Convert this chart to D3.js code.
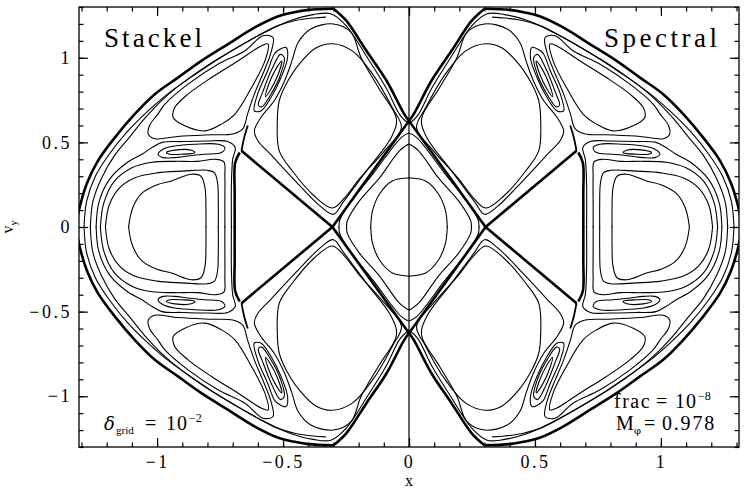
<!DOCTYPE html>
<html>
<head>
<meta charset="utf-8">
<script src="https://cdn.jsdelivr.net/npm/d3@7"></script>
<style>
  body { margin: 0; background: #fff; }
  text { font-family: "Liberation Serif", "DejaVu Serif", serif; fill: #000; }
</style>
</head>
<body>
<svg width="747" height="492"></svg>
<script>
// the picture is mirror-symmetric in x and in vy, so each curve is drawn four times

// chaotic separatrix band (thick)
var bandOuter = [[-0.30, 1.29], [-0.40, 1.283], [-0.46, 1.268], [-0.519, 1.245], [-0.612, 1.179],
    [-0.718, 1.081], [-0.824, 0.982], [-0.917, 0.883], [-1.009, 0.785], [-1.089, 0.667],
    [-1.168, 0.528], [-1.235, 0.391], [-1.278, 0.26], [-1.305, 0.13], [-1.322, 0], [-1.322, -0.06]];
var bandUpperRight = [[-0.30, 1.29], [-0.249, 1.219], [-0.169, 1.041], [-0.089, 0.864], [-0.02, 0.67], [0, 0.627]];
var bandDiamond = [[0, 0.627], [-0.304, 0]];
var bandArm = [[-0.304, 0], [-0.665, 0.45]];
var bandChannel = [[-0.672, 0.44], [-0.69, 0.38], [-0.692, 0.2], [-0.692, 0], [-0.692, -0.05]];
var bandLeftEdge = [[-0.665, 0.45], [-0.654, 0.53], [-0.64, 0.60]];

// thin lines running along the band
var bandInner0 = [[-1.29, -0.05], [-1.29, 0], [-1.28, 0.15], [-1.245, 0.30], [-1.19, 0.43], [-1.12, 0.56],
    [-1.04, 0.68], [-0.955, 0.79], [-0.86, 0.89], [-0.76, 0.99], [-0.66, 1.08], [-0.56, 1.16],
    [-0.47, 1.22], [-0.38, 1.255], [-0.31, 1.26], [-0.25, 1.19], [-0.165, 1.0], [-0.09, 0.82],
    [-0.035, 0.66], [0, 0.61], [0.03, 0.59]];
var bandInner1 = [[-1.265, -0.05], [-1.265, 0], [-1.255, 0.15], [-1.22, 0.29], [-1.17, 0.42], [-1.11, 0.53],
    [-1.05, 0.64], [-0.98, 0.75], [-0.90, 0.85], [-0.80, 0.955], [-0.70, 1.045], [-0.60, 1.13],
    [-0.52, 1.19], [-0.45, 1.22], [-0.38, 1.235], [-0.33, 1.24]];

// curve around the small island, into the vertical channel
var channelLoop = [[-0.705, -0.05], [-0.705, 0], [-0.705, 0.25], [-0.70, 0.40], [-0.69, 0.47], [-0.72, 0.505],
    [-0.80, 0.508], [-0.90, 0.505], [-0.98, 0.50], [-1.02, 0.47], [-1.06, 0.43], [-1.12, 0.38],
    [-1.19, 0.28], [-1.232, 0.14], [-1.242, 0], [-1.242, -0.05]];

// left lobe (open halves, closed by the vy mirror)
var leftLobe1 = [[-1.113, -0.05], [-1.113, 0], [-1.095, 0.12], [-1.06, 0.20], [-1.0, 0.25], [-0.943, 0.272],
    [-0.864, 0.312], [-0.826, 0.30], [-0.810, 0.233], [-0.806, 0.10], [-0.806, 0], [-0.806, -0.05]];
var leftLobe2 = [[-1.205, -0.05], [-1.205, 0], [-1.19, 0.13], [-1.15, 0.23], [-1.09, 0.29], [-1.0, 0.32],
    [-0.90, 0.33], [-0.80, 0.335], [-0.772, 0.32], [-0.76, 0.26], [-0.757, 0.13], [-0.757, 0], [-0.757, -0.05]];
var leftLobe3 = [[-1.225, -0.05], [-1.225, 0], [-1.212, 0.14], [-1.17, 0.27], [-1.10, 0.35], [-1.02, 0.383],
    [-0.93, 0.388], [-0.84, 0.388], [-0.77, 0.40], [-0.735, 0.385], [-0.731, 0.3], [-0.731, 0.13],
    [-0.731, 0], [-0.731, -0.05]];

// upper lobe (closed)
var upperLobe1 = [[-0.523, 0.615], [-0.515, 0.746], [-0.487, 0.846], [-0.435, 0.964], [-0.368, 1.059],
    [-0.304, 1.083], [-0.225, 1.041], [-0.145, 0.905], [-0.066, 0.704], [-0.030, 0.586], [-0.097, 0.450],
    [-0.197, 0.284], [-0.256, 0.172], [-0.304, 0.112], [-0.376, 0.183], [-0.463, 0.331], [-0.515, 0.450]];
var upperLobe2 = [[-0.614, 0.568], [-0.588, 0.647], [-0.535, 0.746], [-0.495, 0.86], [-0.465, 0.98],
    [-0.44, 1.09], [-0.39, 1.17], [-0.30, 1.20], [-0.23, 1.15], [-0.19, 1.0], [-0.12, 0.82], [-0.05, 0.64],
    [-0.07, 0.53], [-0.17, 0.33], [-0.26, 0.15], [-0.30, 0.075], [-0.35, 0.12], [-0.45, 0.27],
    [-0.55, 0.43], [-0.60, 0.51]];

// top-left rounded triangle and its outer loop (closed)
var cornerIn = [[-0.559, 1.081], [-0.572, 0.982], [-0.625, 0.824], [-0.691, 0.667], [-0.744, 0.608],
    [-0.810, 0.568], [-0.890, 0.598], [-0.936, 0.647], [-0.930, 0.706], [-0.877, 0.785], [-0.784, 0.883],
    [-0.678, 0.982], [-0.585, 1.071]];
var cornerOut = [[-1.035, 0.55], [-1.03, 0.60], [-0.997, 0.667], [-0.969, 0.726], [-0.877, 0.844],
    [-0.757, 0.963], [-0.651, 1.041], [-0.58, 1.13], [-0.54, 1.12], [-0.548, 1.031], [-0.575, 0.923],
    [-0.614, 0.785], [-0.641, 0.667], [-0.66, 0.58], [-0.70, 0.55], [-0.784, 0.545], [-0.917, 0.535],
    [-1.009, 0.522]];

// thin diagonal island (closed, nested)
var diagIsland1 = [[-0.522, 1.041], [-0.488, 1.061], [-0.482, 1.002], [-0.508, 0.883], [-0.548, 0.765],
    [-0.588, 0.686], [-0.614, 0.686], [-0.601, 0.785], [-0.561, 0.923], [-0.535, 1.021]];
var diagIsland2 = [[-0.51, 1.02], [-0.495, 1.0], [-0.51, 0.90], [-0.55, 0.78], [-0.585, 0.71],
    [-0.598, 0.72], [-0.58, 0.80], [-0.545, 0.93]];
var diagIsland3 = [[-0.505, 0.98], [-0.52, 0.90], [-0.55, 0.81], [-0.57, 0.77], [-0.56, 0.83], [-0.53, 0.93]];

// thin horizontal island (closed, nested)
var flatIsland1 = [[-0.996, 0.430], [-0.976, 0.460], [-0.93, 0.479], [-0.85, 0.489], [-0.757, 0.489],
    [-0.731, 0.469], [-0.744, 0.44], [-0.81, 0.43], [-0.877, 0.42], [-0.93, 0.41], [-0.976, 0.41]];
var flatIsland2 = [[-0.963, 0.44], [-0.93, 0.454], [-0.864, 0.454], [-0.85, 0.44], [-0.903, 0.43], [-0.95, 0.43]];

// central diamond (quarter arcs from the vy axis to the x axis)
var centre1 = [[0.03, 0.289], [0, 0.29], [-0.066, 0.272], [-0.117, 0.195], [-0.145, 0.095], [-0.152, 0], [-0.152, -0.03]];
var centre2 = [[0.03, 0.49], [0, 0.49], [-0.038, 0.45], [-0.117, 0.29], [-0.197, 0.154], [-0.245, 0.036], [-0.248, 0], [-0.248, -0.03]];
var centre3 = [[0.03, 0.556], [0, 0.556], [-0.03, 0.53], [-0.14, 0.32], [-0.24, 0.13], [-0.275, 0.04], [-0.278, 0], [-0.278, -0.03]];

var closedCurves = [upperLobe1, upperLobe2, cornerIn, cornerOut, diagIsland1, diagIsland2, diagIsland3,
    flatIsland1, flatIsland2];
var openCurves = [bandInner0, bandInner1, channelLoop, leftLobe1, leftLobe2, leftLobe3, centre1, centre2, centre3];
var bands = [bandOuter, bandUpperRight, bandDiamond, bandArm, bandChannel, bandLeftEdge];

var xTicks = [-1, -0.5, 0, 0.5, 1];
var yTicks = [-1, -0.5, 0, 0.5, 1];

var svg = d3.select("svg"),
    width = +svg.attr("width"),
    height = +svg.attr("height");

var x = d3.scaleLinear().domain([-1.31, 1.31]).range([79, 739]);
var y = d3.scaleLinear().domain([-1.3, 1.3]).range([447, 7]);

var quads = [[1, 1], [1, -1], [-1, 1], [-1, -1]];
var defs = svg.append("defs");

quads.forEach(function (q, i) {
    var x0 = q[0] > 0 ? x(-1.31) : x(0), x1 = q[0] > 0 ? x(0) : x(1.31);
    var y0 = q[1] > 0 ? y(1.3) : y(0) - 0.5, y1 = q[1] > 0 ? y(0) + 0.5 : y(-1.3);
    defs.append("clipPath").attr("id", "q" + i)
        .append("rect").attr("x", x0).attr("y", y0).attr("width", x1 - x0).attr("height", y1 - y0);

    var g = svg.append("g").attr("clip-path", "url(#q" + i + ")")
        .attr("fill", "none").attr("stroke", "#000");

    function line(curve) {
        return d3.line()
            .x(function (d) { return x(q[0] * d[0]); })
            .y(function (d) { return y(q[1] * d[1]); })
            .curve(curve);
    }

    g.selectAll(".closed").data(closedCurves).enter().append("path")
        .attr("d", line(d3.curveCatmullRomClosed.alpha(0.5)))
        .attr("stroke-width", 1.1);

    g.selectAll(".open").data(openCurves).enter().append("path")
        .attr("d", line(d3.curveCatmullRom.alpha(0.5)))
        .attr("stroke-width", 1.1);

    g.selectAll(".band").data(bands).enter().append("path")
        .attr("d", line(d3.curveCatmullRom.alpha(0.5)))
        .attr("stroke-width", function (d) { return d === bandLeftEdge ? 1.8 : 2.6; });
});

// divider at x = 0
svg.append("line")
    .attr("x1", x(0)).attr("x2", x(0))
    .attr("y1", y(1.3)).attr("y2", y(-1.3))
    .attr("stroke", "#000").attr("stroke-width", 1.2);

// frame and ticks
svg.append("rect")
    .attr("x", x(-1.31)).attr("y", y(1.3))
    .attr("width", x(1.31) - x(-1.31)).attr("height", y(-1.3) - y(1.3))
    .attr("fill", "none").attr("stroke", "#000").attr("stroke-width", 1.3);

var xMinor = d3.range(-13, 14).map(function (k) { return k / 10; });
var yMinor = d3.range(-13, 14).map(function (k) { return k / 10; });

function addAxis(makeAxis, tx, ty, minor, major, labels) {
    var gm = svg.append("g").attr("transform", "translate(" + tx + "," + ty + ")")
        .call(makeAxis().tickValues(minor).tickSize(-4.5).tickFormat(""));
    gm.select(".domain").remove();
    var g = svg.append("g").attr("transform", "translate(" + tx + "," + ty + ")")
        .call(makeAxis().tickValues(major).tickSize(-9).tickPadding(9)
            .tickFormat(labels ? d3.format("") : ""));
    g.select(".domain").remove();
    svg.selectAll(".tick line").attr("stroke", "#000").attr("stroke-width", 1.2);
    return g;
}

var bx = addAxis(function () { return d3.axisBottom(x); }, 0, y(-1.3), xMinor, xTicks, true);
addAxis(function () { return d3.axisTop(x); }, 0, y(1.3), xMinor, xTicks, false);
var ly = addAxis(function () { return d3.axisLeft(y); }, x(-1.31), 0, yMinor, yTicks, true);
addAxis(function () { return d3.axisRight(y); }, x(1.31), 0, yMinor, yTicks, false);

bx.selectAll("text").attr("font-family", "Liberation Serif").attr("font-size", 18)
    .attr("fill", "#000").attr("letter-spacing", 2.5).attr("dy", "0.68em");
ly.selectAll("text").attr("font-family", "Liberation Serif").attr("font-size", 18)
    .attr("fill", "#000").attr("letter-spacing", 2.5).attr("dx", 2);

// axis titles
svg.append("text").attr("x", x(0)).attr("y", 486).attr("text-anchor", "middle")
    .attr("font-size", 16).text("x");
var vy = svg.append("text").attr("transform", "translate(13," + y(0) + ") rotate(-90)")
    .attr("text-anchor", "middle").attr("font-size", 16);
vy.append("tspan").text("v");
vy.append("tspan").attr("font-size", 10).attr("dy", 4).text("y");

// panel titles
svg.append("text").attr("x", 104).attr("y", 47).attr("font-size", 27)
    .attr("textLength", 98).attr("lengthAdjust", "spacing").text("Stackel");
svg.append("text").attr("x", 604).attr("y", 47).attr("font-size", 27)
    .attr("textLength", 113).attr("lengthAdjust", "spacing").text("Spectral");

// annotations
var t1 = svg.append("text").attr("y", 430).attr("font-size", 20).attr("fill", "#000");
t1.append("tspan").attr("x", 104).attr("font-family", "DejaVu Serif").attr("font-style", "italic")
    .attr("font-size", 18).text("δ");
t1.append("tspan").attr("x", 116).attr("font-size", 11).attr("dy", 4).text("grid");
t1.append("tspan").attr("x", 145).attr("dy", -4).text("=");
t1.append("tspan").attr("x", 166).attr("letter-spacing", 1).text("10");
t1.append("tspan").attr("x", 189).attr("font-size", 12).attr("dy", -8).text("−2");

var t2 = svg.append("text").attr("y", 408).attr("font-size", 20).attr("fill", "#000");
t2.append("tspan").attr("x", 614).attr("letter-spacing", 1.5).text("frac");
t2.append("tspan").attr("x", 656).text("=");
t2.append("tspan").attr("x", 675).attr("letter-spacing", 1).text("10");
t2.append("tspan").attr("x", 698).attr("font-size", 12).attr("dy", -8).text("−8");

var t3 = svg.append("text").attr("y", 430).attr("font-size", 20).attr("fill", "#000");
t3.append("tspan").attr("x", 616).text("M");
t3.append("tspan").attr("x", 634).attr("font-family", "DejaVu Serif").attr("font-size", 10)
    .attr("dy", 4).text("φ");
t3.append("tspan").attr("x", 644).attr("dy", -4).text("=");
t3.append("tspan").attr("x", 662).attr("letter-spacing", 1.8).text("0.978");
</script>
</body>
</html>
